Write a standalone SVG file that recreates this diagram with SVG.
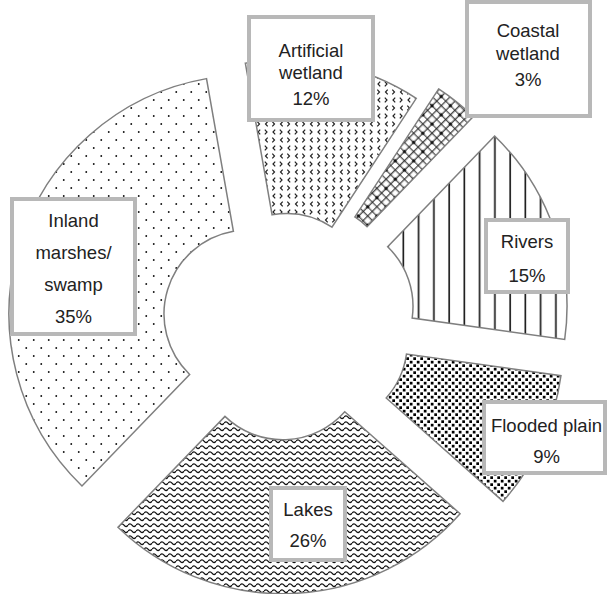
<svg xmlns="http://www.w3.org/2000/svg" width="608" height="594" viewBox="0 0 608 594">
<style>
.w{stroke:#7f7f7f;stroke-width:1.5;stroke-linejoin:miter}
.box{fill:#fff;stroke:#b8b8b8;stroke-width:4}
.t{font-family:"Liberation Sans",Arial,sans-serif;font-size:18.5px;fill:#222;text-anchor:middle}
</style>
<defs>
<pattern id="pInland" patternUnits="userSpaceOnUse" width="15" height="16">
<rect width="15" height="16" fill="#fff"/>
<circle cx="3.75" cy="4" r="0.95" fill="#111"/>
<circle cx="11.25" cy="12" r="0.95" fill="#111"/>
</pattern>
<pattern id="pArt" patternUnits="userSpaceOnUse" width="15" height="16">
<rect width="15" height="16" fill="#fff"/>
<path d="M5.2,1.6 L3,4 L5.2,6.4 M9.8,1.6 L12,4 L9.8,6.4 M2.3,9.6 L4.5,12 L2.3,14.4 M12.7,9.6 L10.5,12 L12.7,14.4" fill="none" stroke="#222" stroke-width="1.2"/>
</pattern>
<pattern id="pCoast" patternUnits="userSpaceOnUse" width="13" height="13" patternTransform="rotate(45)">
<rect width="13" height="13" fill="#fff"/>
<path d="M0,3.25H13M0,9.75H13M3.25,0V13M9.75,0V13" stroke="#222" stroke-width="1.1"/>
<circle cx="3.25" cy="3.25" r="1.7" fill="#111"/>
</pattern>
<pattern id="pRiv" patternUnits="userSpaceOnUse" width="15.25" height="10">
<rect width="15.25" height="10" fill="#fff"/>
<path d="M6.9,0V10" stroke="#111" stroke-width="1.6"/>
</pattern>
<pattern id="pFlood" patternUnits="userSpaceOnUse" width="7" height="7">
<rect width="7" height="7" fill="#fff"/>
<rect x="0.3" y="0.3" width="2.7" height="2.7" fill="#000"/>
<rect x="3.8" y="3.8" width="2.7" height="2.7" fill="#000"/>
</pattern>
<pattern id="pLake" patternUnits="userSpaceOnUse" width="8" height="6">
<rect width="8" height="6" fill="#fff"/>
<path d="M0,3.2 Q2,0.4 4,3.2 T8,3.2" fill="none" stroke="#111" stroke-width="1.2"/>
</pattern>
</defs>
<g id="connectors"></g>
<g id="wedge-artificial">
<path class="w" fill="url(#pArt)" d="M245.34,63.2 A237,237 0 0 1 416.27,98.29 L331.95,227.15 A83,83 0 0 0 272.09,214.86 Z"/>
</g>
<g id="wedge-coastal">
<path class="w" fill="url(#pCoast)" d="M438.62,88.92 A236,236 0 0 1 473.34,116.64 L367.06,226.69 A83,83 0 0 0 354.85,216.95 Z"/>
</g>
<g id="wedge-rivers">
<path class="w" fill="url(#pRiv)" d="M494.63,136.02 A237,237 0 0 1 564.69,339.48 L412.19,318.05 A83,83 0 0 0 387.66,246.79 Z"/>
</g>
<g id="wedge-flooded">
<path class="w" fill="url(#pFlood)" d="M560.96,375.7 A240,240 0 0 1 503.05,501.33 L386.21,397.96 A84,84 0 0 0 406.48,353.99 Z"/>
</g>
<g id="wedge-lakes">
<path class="w" fill="url(#pLake)" d="M460.1,513.74 A237,237 0 0 1 117.97,527.18 L224.94,416.41 A83,83 0 0 0 344.76,411.7 Z"/>
</g>
<g id="wedge-inland">
<path class="w" fill="url(#pInland)" d="M81.98,485.92 A239,239 0 0 1 206.5,78.63 L233.41,231.28 A84,84 0 0 0 189.65,374.42 Z"/>
</g>
<g id="label-artificial">
<rect class="box" x="249" y="17" width="124" height="103"/>
<text class="t" x="311" y="57">Artificial</text>
<text class="t" x="311" y="79">wetland</text>
<text class="t" x="311" y="105">12%</text>
</g>
<g id="label-coastal">
<rect class="box" x="467" y="2" width="123" height="114"/>
<text class="t" x="528" y="37">Coastal</text>
<text class="t" x="528" y="60">wetland</text>
<text class="t" x="528" y="86">3%</text>
</g>
<g id="label-rivers">
<rect class="box" x="486" y="220" width="82" height="72"/>
<text class="t" x="527" y="248">Rivers</text>
<text class="t" x="527" y="281.5">15%</text>
</g>
<g id="label-flooded">
<rect class="box" x="484" y="402" width="121" height="71"/>
<text class="t" x="546.5" y="431.7">Flooded plain</text>
<text class="t" x="546.5" y="463">9%</text>
</g>
<g id="label-lakes">
<rect class="box" x="271" y="488" width="74" height="72"/>
<text class="t" x="308" y="515.7">Lakes</text>
<text class="t" x="308" y="546.7">26%</text>
</g>
<g id="label-inland">
<rect class="box" x="12" y="199" width="123" height="135"/>
<text class="t" x="73.5" y="226.7">Inland</text>
<text class="t" x="73.5" y="259">marshes/</text>
<text class="t" x="73.5" y="291">swamp</text>
<text class="t" x="73.5" y="323">35%</text>
</g>
</svg>
